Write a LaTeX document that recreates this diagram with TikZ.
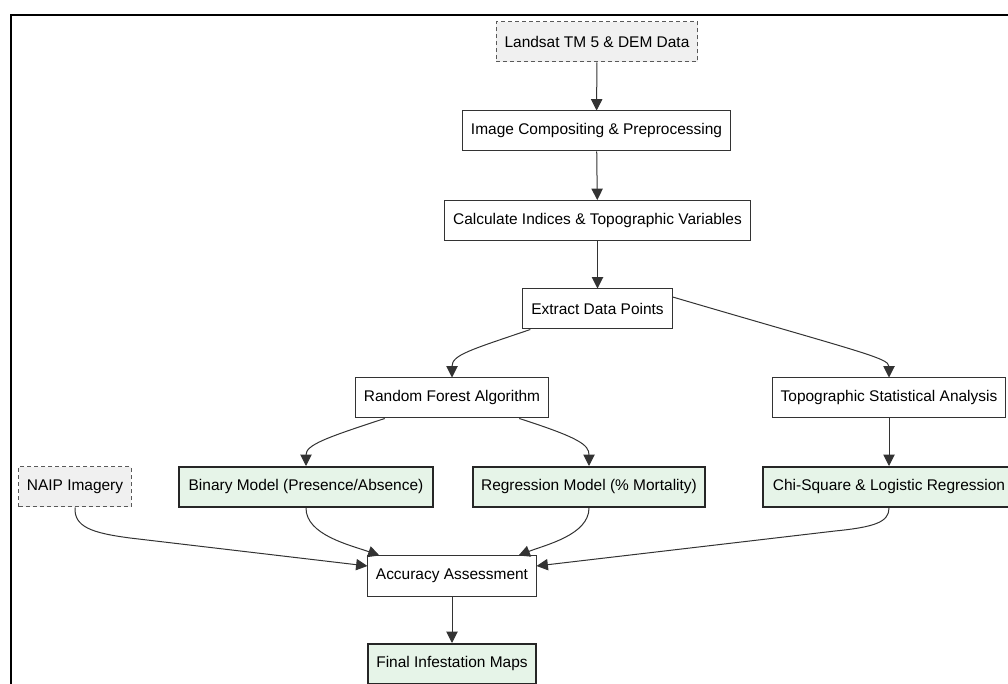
\documentclass[tikz,border=0pt]{standalone}
\usepackage{fontspec}
\setmainfont{Liberation Sans}
\usetikzlibrary{arrows.meta}

\definecolor{edgegray}{RGB}{51,51,51}
\definecolor{datagray}{RGB}{240,240,240}
\definecolor{resultgreen}{RGB}{230,244,232}

\tikzset{every picture/.style={line width=0.75pt}}
\tikzset{
  proc/.style={draw=edgegray, fill=white, line width=0.75pt, minimum height=30pt, inner xsep=6pt, font=\fontsize{11.6}{14}\selectfont},
  datasrc/.style={proc, draw=black!65, fill=datagray, dashed, dash pattern={on 3pt off 2.25pt}},
  result/.style={proc, draw=black!85, fill=resultgreen, line width=1.5pt},
  flow/.style={draw=edgegray, line width=0.75pt, -{Triangle[length=8.5pt,width=8.5pt]}}
}

\begin{document}
\begin{tikzpicture}[x=0.75pt,y=0.75pt,yscale=-1,xscale=1]
	\useasboundingbox (0,0) rectangle (1008,684);
	\clip (0,0) rectangle (1008,684);

	%Frame
	\draw [line width=1.6pt] (11,690) -- (11,15) -- (1015,15) ;

	% Text Node
	\node [datasrc, minimum width=151pt] (landsat) at (597,42) {Landsat TM 5 \& DEM Data};
	% Text Node
	\node [proc, minimum width=200pt] (image) at (596.5,131) {Image Compositing \& Preprocessing};
	% Text Node
	\node [proc, minimum width=230pt] (calc) at (597.5,220.5) {Calculate Indices \& Topographic Variables};
	% Text Node
	\node [proc, minimum width=112pt] (extract) at (597.5,309) {Extract Data Points};
	% Text Node
	\node [proc, minimum width=144pt] (forest) at (452,398) {Random Forest Algorithm};
	% Text Node
	\node [proc, minimum width=175pt] (topo) at (889,398) {Topographic Statistical Analysis};
	% Text Node
	\node [datasrc, minimum width=84pt] (naip) at (75,487) {NAIP Imagery};
	% Text Node
	\node [result, minimum width=190pt] (binary) at (306,487) {Binary Model (Presence/Absence)};
	% Text Node
	\node [result, minimum width=164pt] (regression) at (589,487) {Regression Model (\% Mortality)};
	% Text Node
	\node [result, minimum width=189pt] (chi) at (889,487) {Chi-Square \& Logistic Regression};
	% Text Node
	\node [proc, minimum width=126pt] (accuracy) at (452,576) {Accuracy Assessment};
	% Text Node
	\node [result, minimum width=126pt] (final) at (452,664) {Final Infestation Maps};

	%Straight Lines
	\draw [flow] (landsat) -- (image) ;
	\draw [flow] (image) -- (calc) ;
	\draw [flow] (calc) -- (extract) ;
	\draw [flow] (topo) -- (chi) ;
	\draw [flow] (accuracy) -- (final) ;

	%Curve Lines
	\draw [flow] ([xshift=6pt]extract.south west) .. controls (470,350) and (452,355) .. (forest.north) ;
	\draw [flow] ([yshift=-9pt]extract.east) .. controls (860,352) and (889,358) .. (topo.north) ;
	\draw [flow] ([xshift=22pt]forest.south west) .. controls (325,438) and (306,445) .. (binary.north) ;
	\draw [flow] ([xshift=-22pt]forest.south east) .. controls (580,438) and (589,445) .. (regression.north) ;
	\draw [flow] (naip.south) .. controls (74,527) and (92,533) .. (130,538) -- ([yshift=-7.5pt]accuracy.west) ;
	\draw [flow] (binary.south) .. controls (306,535) and (350,545) .. ([xshift=9pt]accuracy.north west) ;
	\draw [flow] (regression.south) .. controls (589,535) and (545,545) .. ([xshift=-13.5pt]accuracy.north east) ;
	\draw [flow] (chi.south) .. controls (889,522) and (875,527) .. (835,531) -- ([yshift=-7.5pt]accuracy.east) ;

\end{tikzpicture}
\end{document}
